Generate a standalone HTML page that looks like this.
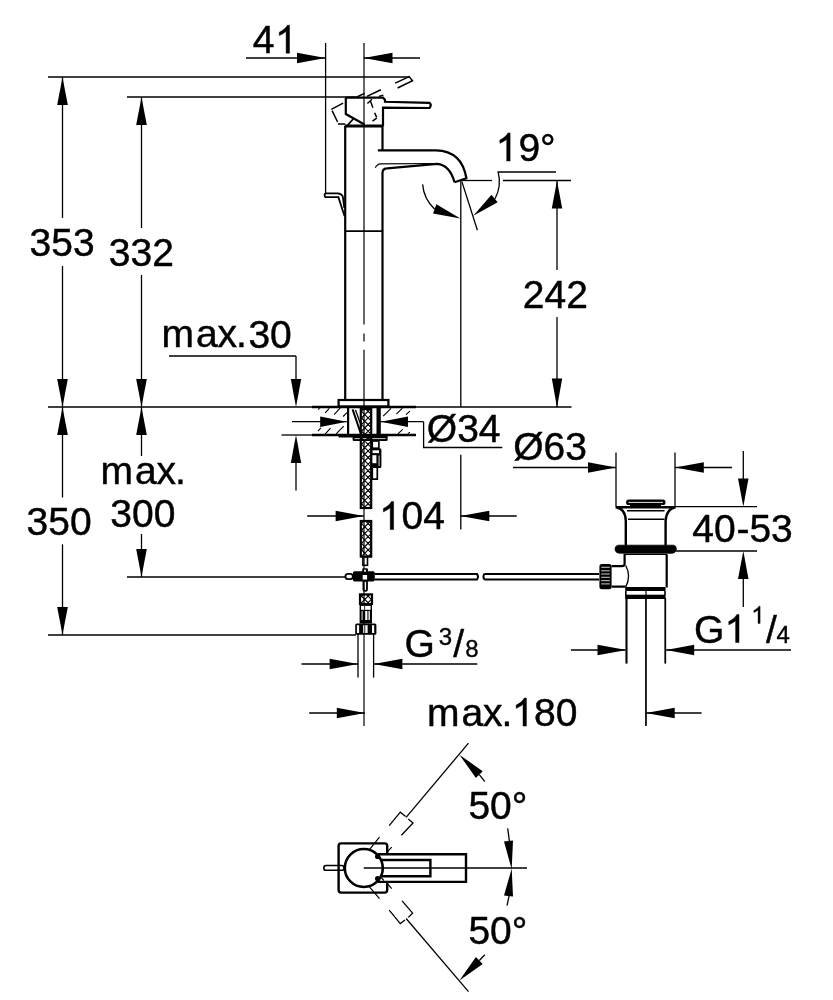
<!DOCTYPE html>
<html><head><meta charset="utf-8"><style>
html,body{margin:0;padding:0;background:#fff;}
svg{display:block;}
text{font-family:"Liberation Sans",sans-serif;fill:#000;}
svg{will-change:transform;}
</style></head><body>
<svg width="833" height="1000" viewBox="0 0 833 1000">
<line x1="48" y1="77" x2="409" y2="77" stroke="#000" stroke-width="1.3" />
<line x1="62.5" y1="77" x2="62.5" y2="218" stroke="#000" stroke-width="1.3" />
<line x1="62.5" y1="266" x2="62.5" y2="497.5" stroke="#000" stroke-width="1.3" />
<line x1="62.5" y1="544.3" x2="62.5" y2="635" stroke="#000" stroke-width="1.3" />
<polygon points="62.5,77.0 57.2,105.0 67.8,105.0" fill="#000"/>
<polygon points="62.5,407.0 67.8,379.0 57.2,379.0" fill="#000"/>
<polygon points="62.5,407.0 57.2,435.0 67.8,435.0" fill="#000"/>
<polygon points="62.5,635.0 67.8,607.0 57.2,607.0" fill="#000"/>
<text x="29.5" y="256" font-size="39" stroke="#000" stroke-width="0.45">353</text>
<text x="26.6" y="534.7" font-size="39" stroke="#000" stroke-width="0.45">350</text>
<line x1="48" y1="635" x2="356" y2="635" stroke="#000" stroke-width="1.3" />
<line x1="127" y1="97" x2="358" y2="97" stroke="#000" stroke-width="1.3" />
<line x1="141.5" y1="97" x2="141.5" y2="228" stroke="#000" stroke-width="1.3" />
<line x1="141.5" y1="275" x2="141.5" y2="456" stroke="#000" stroke-width="1.3" />
<line x1="141.5" y1="534" x2="141.5" y2="577" stroke="#000" stroke-width="1.3" />
<polygon points="141.5,97.0 136.2,125.0 146.8,125.0" fill="#000"/>
<polygon points="141.5,407.0 146.8,379.0 136.2,379.0" fill="#000"/>
<polygon points="141.5,407.0 136.2,435.0 146.8,435.0" fill="#000"/>
<polygon points="141.5,577.0 146.8,549.0 136.2,549.0" fill="#000"/>
<text x="108.8" y="266" font-size="39" stroke="#000" stroke-width="0.45">332</text>
<text x="100.4" y="483.5" font-size="39" stroke="#000" stroke-width="0.45">m</text>
<text x="135.0" y="483.5" font-size="39" stroke="#000" stroke-width="0.45">a</text>
<text x="156.6" y="483.5" font-size="39" stroke="#000" stroke-width="0.45">x</text>
<text x="175.0" y="483.5" font-size="39" stroke="#000" stroke-width="0.45">.</text>
<text x="110.3" y="527.4" font-size="39" stroke="#000" stroke-width="0.45">300</text>
<line x1="127" y1="577" x2="346" y2="577" stroke="#000" stroke-width="1.3" />
<line x1="48" y1="407" x2="571.5" y2="407" stroke="#000" stroke-width="1.3" />
<line x1="246" y1="58" x2="325.6" y2="58" stroke="#000" stroke-width="1.3" />
<polygon points="325.6,58.0 297.0,52.8 297.0,63.2" fill="#000"/>
<line x1="363.7" y1="58" x2="420" y2="58" stroke="#000" stroke-width="1.3" />
<polygon points="363.7,58.0 392.5,63.2 392.5,52.8" fill="#000"/>
<text x="252.7" y="53.2" font-size="39" stroke="#000" stroke-width="0.45">4</text>
<path d="M289.53,53.20 L286.10,53.20 L286.10,31.36 Q284.86,32.54 282.85,33.72 Q280.83,34.90 279.25,35.49 L279.25,32.18 Q282.14,30.82 284.31,28.90 Q286.48,26.98 287.38,25.17 L289.53,25.17 Z" fill="#000" stroke="#000" stroke-width="0.45"/>
<line x1="325.6" y1="43" x2="325.6" y2="193.6" stroke="#000" stroke-width="1.3" />
<line x1="364" y1="43" x2="364" y2="324.5" stroke="#000" stroke-width="1.2" />
<line x1="364" y1="333.5" x2="364" y2="341.6" stroke="#000" stroke-width="1.2" />
<line x1="364" y1="349.7" x2="364" y2="726" stroke="#000" stroke-width="1.2" />
<line x1="557" y1="180.5" x2="557" y2="270" stroke="#000" stroke-width="1.3" />
<line x1="557" y1="317" x2="557" y2="407" stroke="#000" stroke-width="1.3" />
<polygon points="557.0,180.5 551.8,208.6 562.2,208.6" fill="#000"/>
<polygon points="557.0,407.4 562.2,378.6 551.8,378.6" fill="#000"/>
<text x="522.8" y="308.4" font-size="39" stroke="#000" stroke-width="0.45">242</text>
<line x1="460.8" y1="180.5" x2="492" y2="180.5" stroke="#000" stroke-width="1.3" />
<line x1="503" y1="180.5" x2="571" y2="180.5" stroke="#000" stroke-width="1.3" />
<line x1="460.8" y1="181" x2="460.8" y2="407" stroke="#000" stroke-width="1.3" />
<line x1="460.8" y1="454.7" x2="460.8" y2="529.6" stroke="#000" stroke-width="1.3" />
<line x1="461.9" y1="181.6" x2="477.4" y2="230.2" stroke="#000" stroke-width="1.3" />
<line x1="497.5" y1="172" x2="556" y2="172" stroke="#000" stroke-width="1.3" />
<path d="M498.2,172 A38.5,38.5 0 0 1 495.1,198.8" fill="none" stroke="#000" stroke-width="1.3" />
<path d="M422.6,184.4 A38.5,38.5 0 0 0 434.7,209.2" fill="none" stroke="#000" stroke-width="1.3" />
<polygon points="460.4,218.5 436.4,204.2 433.0,213.4" fill="#000"/>
<polygon points="473.3,215.8 497.7,202.3 491.5,194.7" fill="#000"/>
<path d="M510.13,161.00 L506.70,161.00 L506.70,139.16 Q505.46,140.34 503.45,141.52 Q501.43,142.70 499.85,143.29 L499.85,139.98 Q502.74,138.62 504.91,136.70 Q507.08,134.78 507.98,132.97 L510.13,132.97 Z" fill="#000" stroke="#000" stroke-width="0.45"/>
<text x="518.4" y="161" font-size="39" stroke="#000" stroke-width="0.45">9°</text>
<text x="161.4" y="347.3" font-size="39" stroke="#000" stroke-width="0.45">m</text>
<text x="196.0" y="347.3" font-size="39" stroke="#000" stroke-width="0.45">a</text>
<text x="217.6" y="347.3" font-size="39" stroke="#000" stroke-width="0.45">x</text>
<text x="236.0" y="347.3" font-size="39" stroke="#000" stroke-width="0.45">.</text>
<text x="248.4" y="347.8" font-size="39" stroke="#000" stroke-width="0.45">30</text>
<line x1="169" y1="356" x2="296" y2="356" stroke="#000" stroke-width="1.3" />
<line x1="296" y1="356" x2="296" y2="380" stroke="#000" stroke-width="1.3" />
<polygon points="296.0,407.0 301.2,379.0 290.8,379.0" fill="#000"/>
<polygon points="296.0,435.0 290.8,463.0 301.2,463.0" fill="#000"/>
<line x1="296" y1="463" x2="296" y2="490.4" stroke="#000" stroke-width="1.3" />
<line x1="281.5" y1="435" x2="312" y2="435" stroke="#000" stroke-width="1.3" />
<line x1="292" y1="421.7" x2="346.8" y2="421.7" stroke="#000" stroke-width="1.3" />
<polygon points="346.8,421.7 320.2,416.4 320.2,426.9" fill="#000"/>
<line x1="380.7" y1="421.7" x2="423.6" y2="421.7" stroke="#000" stroke-width="1.3" />
<polygon points="380.7,421.7 408.0,426.9 408.0,416.4" fill="#000"/>
<path d="M423.6,421.7 L423.6,447.5 L502.3,447.5" fill="none" stroke="#000" stroke-width="1.3" />
<text x="426.8" y="441.6" font-size="39" stroke="#000" stroke-width="0.45">Ø34</text>
<line x1="307.2" y1="516" x2="363.8" y2="516" stroke="#000" stroke-width="1.3" />
<polygon points="363.8,516.0 335.6,510.8 335.6,521.2" fill="#000"/>
<line x1="460.5" y1="516" x2="516.7" y2="516" stroke="#000" stroke-width="1.3" />
<polygon points="460.5,516.0 489.3,521.2 489.3,510.8" fill="#000"/>
<path d="M393.63,529.60 L390.20,529.60 L390.20,507.76 Q388.96,508.94 386.95,510.12 Q384.93,511.30 383.35,511.89 L383.35,508.58 Q386.24,507.22 388.41,505.30 Q390.58,503.38 391.48,501.57 L393.63,501.57 Z" fill="#000" stroke="#000" stroke-width="0.45"/>
<text x="401.5" y="529.4" font-size="39" stroke="#000" stroke-width="0.45">04</text>
<text x="513.2" y="460" font-size="39" stroke="#000" stroke-width="0.45">Ø63</text>
<line x1="513" y1="467.5" x2="616" y2="467.5" stroke="#000" stroke-width="1.3" />
<polygon points="616.0,467.5 588.0,462.2 588.0,472.8" fill="#000"/>
<line x1="675" y1="467.5" x2="732" y2="467.5" stroke="#000" stroke-width="1.3" />
<polygon points="675.0,467.5 703.8,472.8 703.8,462.2" fill="#000"/>
<line x1="616" y1="452.6" x2="616" y2="506.6" stroke="#000" stroke-width="1.3" />
<line x1="675" y1="452.6" x2="675" y2="506.6" stroke="#000" stroke-width="1.3" />
<line x1="743.3" y1="451" x2="743.3" y2="480" stroke="#000" stroke-width="1.3" />
<polygon points="743.3,506.7 748.5,478.4 738.0,478.4" fill="#000"/>
<line x1="675" y1="506.7" x2="757" y2="506.7" stroke="#000" stroke-width="1.3" />
<line x1="676" y1="551" x2="757" y2="551" stroke="#000" stroke-width="1.3" />
<polygon points="743.3,551.0 738.0,579.0 748.5,579.0" fill="#000"/>
<line x1="743.3" y1="579" x2="743.3" y2="607" stroke="#000" stroke-width="1.3" />
<text x="692.2" y="542.3" font-size="39" stroke="#000" stroke-width="0.45">40</text>
<text x="736.4" y="542.3" font-size="39" stroke="#000" stroke-width="0.45">-53</text>
<line x1="570.9" y1="650" x2="625.5" y2="650" stroke="#000" stroke-width="1.3" />
<polygon points="626.5,650.0 597.5,644.8 597.5,655.2" fill="#000"/>
<line x1="666" y1="650" x2="791" y2="650" stroke="#000" stroke-width="1.3" />
<polygon points="666.0,650.0 694.2,655.2 694.2,644.8" fill="#000"/>
<line x1="626.9" y1="598" x2="626.9" y2="663.4" stroke="#000" stroke-width="1.3" />
<line x1="665.5" y1="598" x2="665.5" y2="663.4" stroke="#000" stroke-width="1.3" />
<line x1="646" y1="587" x2="646" y2="726" stroke="#000" stroke-width="1.2" />
<text x="693.9" y="642.5" font-size="39" stroke="#000" stroke-width="0.45">G</text>
<path d="M739.03,642.50 L735.60,642.50 L735.60,620.66 Q734.36,621.84 732.35,623.02 Q730.33,624.20 728.75,624.79 L728.75,621.48 Q731.64,620.12 733.81,618.20 Q735.98,616.28 736.88,614.47 L739.03,614.47 Z" fill="#000" stroke="#000" stroke-width="0.45"/>
<path d="M760.14,623.40 L758.03,623.40 L758.03,609.96 Q757.27,610.69 756.03,611.41 Q754.79,612.14 753.81,612.50 L753.81,610.46 Q755.59,609.63 756.93,608.45 Q758.27,607.26 758.82,606.15 L760.14,606.15 Z" fill="#000" stroke="#000" stroke-width="0.35"/>
<text x="765.9" y="642.5" font-size="39" stroke="#000" stroke-width="0.45">/</text>
<text x="776.6" y="642.5" font-size="24" stroke="#000" stroke-width="0.35">4</text>
<line x1="301.5" y1="664" x2="358" y2="664" stroke="#000" stroke-width="1.3" />
<polygon points="358.0,664.0 329.6,658.8 329.6,669.2" fill="#000"/>
<line x1="373.6" y1="664" x2="477.3" y2="664" stroke="#000" stroke-width="1.3" />
<polygon points="373.6,664.0 402.4,669.2 402.4,658.8" fill="#000"/>
<line x1="358" y1="634" x2="358" y2="677.6" stroke="#000" stroke-width="1.3" />
<line x1="373.6" y1="634" x2="373.6" y2="677.6" stroke="#000" stroke-width="1.3" />
<text x="404.4" y="657.2" font-size="39" stroke="#000" stroke-width="0.45">G</text>
<text x="438.8" y="644.7" font-size="24" stroke="#000" stroke-width="0.35">3</text>
<text x="453.3" y="657.2" font-size="39" stroke="#000" stroke-width="0.45">/</text>
<text x="465.3" y="657.2" font-size="24" stroke="#000" stroke-width="0.35">8</text>
<line x1="309.2" y1="713" x2="364.9" y2="713" stroke="#000" stroke-width="1.3" />
<polygon points="364.9,713.0 336.8,707.8 336.8,718.2" fill="#000"/>
<line x1="645.9" y1="713" x2="701.6" y2="713" stroke="#000" stroke-width="1.3" />
<polygon points="645.9,713.0 674.7,718.2 674.7,707.8" fill="#000"/>
<line x1="645.9" y1="598" x2="645.9" y2="726" stroke="#000" stroke-width="1.3" />
<text x="426.9" y="726.1" font-size="39" stroke="#000" stroke-width="0.45">m</text>
<text x="461.5" y="726.1" font-size="39" stroke="#000" stroke-width="0.45">a</text>
<text x="483.1" y="726.1" font-size="39" stroke="#000" stroke-width="0.45">x</text>
<text x="501.5" y="726.1" font-size="39" stroke="#000" stroke-width="0.45">.</text>
<path d="M526.43,726.10 L523.00,726.10 L523.00,704.26 Q521.76,705.44 519.75,706.62 Q517.73,707.80 516.15,708.39 L516.15,705.08 Q519.04,703.72 521.21,701.80 Q523.38,699.88 524.28,698.07 L526.43,698.07 Z" fill="#000" stroke="#000" stroke-width="0.45"/>
<text x="534" y="726.1" font-size="39" stroke="#000" stroke-width="0.45">80</text>
<path d="M345.8,97.6 L383,97.6 L385,100 L385,101.8 L429.5,102.9 Q432,105 429.5,108 L383,107.7 L383,126" fill="none" stroke="#000" stroke-width="2.2" />
<path d="M345.8,97.6 L345.8,114 L364.5,124.5" fill="none" stroke="#000" stroke-width="2.2" />
<line x1="344.7" y1="126" x2="383" y2="126" stroke="#000" stroke-width="2.8" />
<path d="M347.5,125.4 L353.2,119" fill="none" stroke="#000" stroke-width="1.8" />
<path d="M331.3,109.4 L343.1,103.1 M332.1,110.7 L337.6,122 M338,124.1 L345.2,124.1" fill="none" stroke="#000" stroke-width="1.5" />
<path d="M367.4,103.5 L372,99.3 M370.4,101 L372.9,107.7 M374.6,112.8 L376.7,117.4 M372.5,121.2 L376.7,118.2" fill="none" stroke="#000" stroke-width="1.5" />
<path d="M357.4,96.8 L364.5,93.4 M367,96.4 L380.9,89.7 M378.8,96.4 L383.4,95.1" fill="none" stroke="#000" stroke-width="1.5" />
<path d="M395.2,83.1 L409.2,76.6 L412.5,80.8 L397.6,88" fill="none" stroke="#000" stroke-width="1.5" />
<line x1="345.2" y1="126" x2="345.2" y2="400" stroke="#000" stroke-width="2.2" />
<line x1="382.5" y1="126" x2="382.5" y2="150.3" stroke="#000" stroke-width="2.2" />
<line x1="382.5" y1="173" x2="382.5" y2="400" stroke="#000" stroke-width="2.2" />
<line x1="345.2" y1="231.2" x2="382.5" y2="231.2" stroke="#000" stroke-width="1.8" />
<path d="M377.9,150.3 L436,150.3 Q462,151 466.4,178.3 L454.5,182.3" fill="none" stroke="#000" stroke-width="2.2" />
<path d="M382.5,173 Q382.5,168.4 387.2,168.4 L437,163.8 Q450,165 454.5,182.3" fill="none" stroke="#000" stroke-width="2.2" />
<path d="M375.3,167.7 Q377,164 380.6,163.8 L437,163.5" fill="none" stroke="#000" stroke-width="1.2" />
<path d="M337.6,193.4 L326,193.4 Q324.6,193.4 324.6,195.3 Q324.6,197.2 326.2,197.2 L338.4,197.2 L344.5,216 M337.6,193.4 Q341.5,193.6 342.8,196.5 L344.3,208" fill="none" stroke="#000" stroke-width="1.8" />
<rect x="338.6" y="400" width="49.8" height="6.5" rx="0" fill="none" stroke="#000" stroke-width="2.2"/>
<line x1="312" y1="407" x2="416" y2="407" stroke="#000" stroke-width="2.6" />
<line x1="312" y1="435" x2="416" y2="435" stroke="#000" stroke-width="2.6" />
<path d="M325.1,412.9 L329.3,408.4 M334.1,414.7 L340.1,408.1 M343.1,416.5 L347,412.6 M317.9,431.2 L320.9,427.9 M325.1,434.2 L330.5,428.2 M336.2,433.9 L343.7,426.1 M318.2,409.6 L319.6,408" fill="none" stroke="#000" stroke-width="1.1" />
<path d="M383.2,416.2 L391,408.4 M396.4,414.1 L402.4,408.1 M406,414.7 L409.9,411.1 M397.9,433.9 L402.7,429.4 M407.8,433.9 L409.9,432.1" fill="none" stroke="#000" stroke-width="1.1" />
<line x1="348.1" y1="407" x2="348.1" y2="435" stroke="#000" stroke-width="2.2" />
<rect x="376.5" y="407" width="4.3" height="28" rx="0" fill="#000" stroke="#000" stroke-width="0"/>
<path d="M352.6,409.4 L361,434" fill="none" stroke="#000" stroke-width="2" />
<path d="M355.5,410 L360.2,423" fill="none" stroke="#000" stroke-width="1.3" />
<line x1="338.6" y1="436" x2="387.6" y2="436" stroke="#000" stroke-width="2.8" />
<rect x="352.6" y="436" width="35" height="5" rx="1.2" fill="#000"/>
<line x1="354.5" y1="438.6" x2="385.5" y2="438.6" stroke="#fff" stroke-width="0.8" />
<clipPath id="c1"><rect x="361" y="409" width="10" height="99"/></clipPath>
<path d="M360.6,399.0 L241.6,518.0 M367.2,399.0 L248.2,518.0 M373.8,399.0 L254.8,518.0 M380.4,399.0 L261.4,518.0 M387.0,399.0 L268.0,518.0 M393.6,399.0 L274.6,518.0 M243.6,399.0 L362.6,518.0 M400.2,399.0 L281.2,518.0 M250.2,399.0 L369.2,518.0 M406.8,399.0 L287.8,518.0 M256.8,399.0 L375.8,518.0 M413.4,399.0 L294.4,518.0 M263.4,399.0 L382.4,518.0 M420.0,399.0 L301.0,518.0 M270.0,399.0 L389.0,518.0 M426.6,399.0 L307.6,518.0 M276.6,399.0 L395.6,518.0 M433.2,399.0 L314.2,518.0 M283.2,399.0 L402.2,518.0 M439.8,399.0 L320.8,518.0 M289.8,399.0 L408.8,518.0 M446.4,399.0 L327.4,518.0 M296.4,399.0 L415.4,518.0 M453.0,399.0 L334.0,518.0 M303.0,399.0 L422.0,518.0 M459.6,399.0 L340.6,518.0 M309.6,399.0 L428.6,518.0 M466.2,399.0 L347.2,518.0 M316.2,399.0 L435.2,518.0 M472.8,399.0 L353.8,518.0 M322.8,399.0 L441.8,518.0 M479.4,399.0 L360.4,518.0 M329.4,399.0 L448.4,518.0 M486.0,399.0 L367.0,518.0 M336.0,399.0 L455.0,518.0 M492.6,399.0 L373.6,518.0 M342.6,399.0 L461.6,518.0 M349.2,399.0 L468.2,518.0 M355.8,399.0 L474.8,518.0 M362.4,399.0 L481.4,518.0 M369.0,399.0 L488.0,518.0 M375.6,399.0 L494.6,518.0 " stroke="#000" stroke-width="1.15" fill="none" clip-path="url(#c1)"/>
<rect x="360.8" y="409" width="10.4" height="99" rx="0" fill="none" stroke="#000" stroke-width="2.2"/>
<clipPath id="c2"><rect x="361" y="521" width="10" height="35.60000000000002"/></clipPath>
<path d="M302.8,511.0 L358.4,566.6 M309.4,511.0 L365.0,566.6 M316.0,511.0 L371.6,566.6 M322.6,511.0 L378.2,566.6 M329.2,511.0 L384.8,566.6 M335.8,511.0 L391.4,566.6 M342.4,511.0 L398.0,566.6 M349.0,511.0 L404.6,566.6 M355.6,511.0 L411.2,566.6 M362.2,511.0 L417.8,566.6 M368.8,511.0 L424.4,566.6 M375.4,511.0 L431.0,566.6 M360.8,511.0 L305.2,566.6 M367.4,511.0 L311.8,566.6 M374.0,511.0 L318.4,566.6 M380.6,511.0 L325.0,566.6 M387.2,511.0 L331.6,566.6 M393.8,511.0 L338.2,566.6 M400.4,511.0 L344.8,566.6 M407.0,511.0 L351.4,566.6 M413.6,511.0 L358.0,566.6 M420.2,511.0 L364.6,566.6 M426.8,511.0 L371.2,566.6 " stroke="#000" stroke-width="1.15" fill="none" clip-path="url(#c2)"/>
<rect x="360.8" y="521" width="10.4" height="35.60000000000002" rx="0" fill="none" stroke="#000" stroke-width="2.2"/>
<rect x="362.9" y="556.8" width="4.6" height="8.5" rx="0" fill="none" stroke="#000" stroke-width="1.6"/>
<rect x="372.3" y="441" width="6.6" height="7.2" rx="0" fill="none" stroke="#000" stroke-width="1.6"/>
<rect x="371.5" y="448.2" width="9.9" height="19.8" rx="1.5" fill="#000"/>
<rect x="372.6" y="450.3" width="6.4" height="2.8" fill="#fff"/><rect x="372.4" y="455.2" width="4" height="8" fill="#fff"/><rect x="378.3" y="455.5" width="1.6" height="10.5" fill="#888"/>
<path d="M372.3,468 L372.3,479.2 L377.3,479.2 L377.3,468" fill="none" stroke="#000" stroke-width="1.7" />
<rect x="345.4" y="573.9" width="7.5" height="5.3" rx="2.6" fill="none" stroke="#000" stroke-width="1.8"/>
<rect x="352.9" y="571.3" width="21.9" height="10.2" rx="1.8" fill="#000"/>
<rect x="362.7" y="575" width="4.4" height="4.6" fill="#fff"/>
<rect x="362.2" y="568.3" width="5.7" height="5" rx="1" fill="#000"/><rect x="364.2" y="569.6" width="1.6" height="2.2" fill="#fff"/>
<rect x="363.4" y="580.6" width="3.6" height="10.2" rx="1.6" fill="none" stroke="#000" stroke-width="1.8"/>
<path d="M374.7,573.9 L477,573.9 Q479,576.7 477,579.5 L374.7,579.5" fill="none" stroke="#000" stroke-width="2" />
<path d="M484.4,573.9 L599,573.9 M484.4,579.5 L599,579.5 M484.4,573.9 Q482.5,576.7 484.4,579.5" fill="none" stroke="#000" stroke-width="2" />
<clipPath id="c3"><rect x="360.2" y="594.4" width="11.600000000000023" height="9.600000000000023"/></clipPath>
<path d="M330.0,584.4 L359.6,614.0 M336.6,584.4 L366.2,614.0 M343.2,584.4 L372.8,614.0 M349.8,584.4 L379.4,614.0 M356.4,584.4 L386.0,614.0 M363.0,584.4 L392.6,614.0 M369.6,584.4 L399.2,614.0 M376.2,584.4 L405.8,614.0 M360.0,584.4 L330.4,614.0 M366.6,584.4 L337.0,614.0 M373.2,584.4 L343.6,614.0 M379.8,584.4 L350.2,614.0 M386.4,584.4 L356.8,614.0 M393.0,584.4 L363.4,614.0 M399.6,584.4 L370.0,614.0 M406.2,584.4 L376.6,614.0 " stroke="#000" stroke-width="1.15" fill="none" clip-path="url(#c3)"/>
<rect x="360.0" y="594.4" width="12.000000000000023" height="9.600000000000023" rx="0" fill="none" stroke="#000" stroke-width="2.2"/>
<rect x="359.6" y="604" width="12.4" height="19.5" fill="#000"/>
<rect x="361" y="605.9" width="9.6" height="3.9" fill="#fff"/>
<line x1="364.6" y1="605.9" x2="364.6" y2="609.8" stroke="#000" stroke-width="0.8" />
<rect x="361.4" y="611" width="1.5" height="9" fill="#999"/><rect x="365.2" y="611" width="2.2" height="9" fill="#fff"/><rect x="368.4" y="611" width="1.6" height="9" fill="#ddd"/>
<rect x="355.2" y="623.5" width="21.2" height="11.3" rx="1.5" fill="#000"/>
<rect x="356.9" y="625.2" width="2.2" height="7.8" fill="#fff"/><rect x="363.2" y="625.2" width="4.4" height="7.8" fill="#fff"/><rect x="372" y="625.2" width="2.2" height="7.8" fill="#fff"/>
<line x1="364.8" y1="625" x2="364.8" y2="634" stroke="#000" stroke-width="0.9" />
<rect x="626.1" y="499.6" width="39.4" height="5.4" rx="2.6" fill="#000"/>
<line x1="628.5" y1="502.4" x2="663" y2="502.4" stroke="#fff" stroke-width="0.9" />
<line x1="630" y1="505.6" x2="661" y2="505.6" stroke="#000" stroke-width="1.3" />
<path d="M615.6,507.3 L675.6,507.3 Q666.5,508.5 665.6,521 L665.6,545.5 M615.6,507.3 Q625.6,508.5 625.8,521 L625.8,545.5" fill="none" stroke="#000" stroke-width="2.4" />
<line x1="627" y1="510.7" x2="664.5" y2="510.7" stroke="#000" stroke-width="1.4" />
<line x1="628" y1="519.3" x2="664.5" y2="519.3" stroke="#000" stroke-width="1.4" />
<path d="M618.5,545.2 L673.5,545.2 Q676.5,545.6 676.3,549 L675.8,551 Q675,553.2 672,553.2 L619.5,553.2 Q616,553.2 615.3,550.5 L615,549 Q615,545.6 618.5,545.2 Z" fill="#000" stroke="#000" stroke-width="0.8" />
<line x1="623.5" y1="554.3" x2="667.5" y2="554.3" stroke="#000" stroke-width="1.2" />
<path d="M624.6,555 L624.6,564.5 Q624,566.1 622,566.1 L611.6,566.1 M611.6,586.6 L625.5,586.6 M666.7,555 L666.7,587.5" fill="none" stroke="#000" stroke-width="2.2" />
<path d="M625.7,565.5 Q631.5,576.3 625.7,587.1" fill="none" stroke="#000" stroke-width="1.3" />
<rect x="599.4" y="564.1" width="12.2" height="25.2" rx="2.5" fill="#000"/>
<line x1="601.2" y1="567.3" x2="609.8" y2="567.3" stroke="#bbb" stroke-width="1.1" />
<line x1="601.2" y1="570.8" x2="609.8" y2="570.8" stroke="#bbb" stroke-width="1.1" />
<line x1="601.2" y1="574" x2="609.8" y2="574" stroke="#bbb" stroke-width="1.1" />
<line x1="601.2" y1="577.3" x2="609.8" y2="577.3" stroke="#bbb" stroke-width="1.1" />
<line x1="601.2" y1="580.6" x2="609.8" y2="580.6" stroke="#bbb" stroke-width="1.1" />
<line x1="601.2" y1="583.9" x2="609.8" y2="583.9" stroke="#bbb" stroke-width="1.1" />
<line x1="0" y1="0" x2="0" y2="0" stroke="#000" stroke-width="0" />
<rect x="625.1" y="587.1" width="40.5" height="4" rx="1" fill="#000"/><rect x="625.1" y="594.7" width="40.5" height="4.3" fill="#000"/>
<line x1="625.8" y1="591" x2="625.8" y2="595" stroke="#000" stroke-width="1.6" />
<line x1="665" y1="591" x2="665" y2="595" stroke="#000" stroke-width="1.6" />
<line x1="626.2" y1="599" x2="626.2" y2="663.4" stroke="#000" stroke-width="1.5" />
<line x1="665.2" y1="599" x2="665.2" y2="663.4" stroke="#000" stroke-width="1.5" />
<line x1="369.4" y1="849.7" x2="379.5" y2="837.1" stroke="#000" stroke-width="1.2" />
<line x1="387.4" y1="851.9" x2="391.7" y2="847.2" stroke="#000" stroke-width="1.2" />
<line x1="381.3" y1="858.4" x2="383.8" y2="855.5" stroke="#000" stroke-width="1.2" />
<line x1="369.4" y1="886.8" x2="379.5" y2="898.7" stroke="#000" stroke-width="1.2" />
<line x1="387" y1="883.2" x2="391.7" y2="888.6" stroke="#000" stroke-width="1.2" />
<rect x="338.6" y="843.4" width="48.6" height="49.2" rx="2.5" fill="none" stroke="#000" stroke-width="2.4"/>
<rect x="377.6" y="854.2" width="88.4" height="27.7" fill="#fff"/>
<circle cx="363.8" cy="868" r="19" fill="#fff" stroke="#000" stroke-width="2.6"/>
<rect x="323.8" y="865.5" width="20.2" height="4.8" rx="2.4" fill="none" stroke="#000" stroke-width="1.6"/>
<path d="M377.6,854.2 L466,854.2 L466,881.9 L377.6,881.9" fill="none" stroke="#000" stroke-width="2.4" />
<path d="M381.5,860 L430.4,860 L430.4,876.3 L381.5,876.3" fill="none" stroke="#000" stroke-width="2.4" />
<line x1="363.8" y1="868" x2="527" y2="868" stroke="#000" stroke-width="1.3" />
<circle cx="377.6" cy="856.5" r="2.6" fill="#000"/><circle cx="377.6" cy="878.6" r="2.6" fill="#000"/>
<line x1="381.3" y1="877.6" x2="383.8" y2="880.5" stroke="#000" stroke-width="1.2" />
<line x1="406.1" y1="817.3" x2="468.5" y2="743.2" stroke="#000" stroke-width="1.3" />
<path d="M389.2,825.6 L400.3,812.2 L405.7,816.6 M408.3,819.1 L413,823 L401.4,835.3" fill="none" stroke="#000" stroke-width="1.3" />
<polygon points="459.4,754.7 475.9,778.0 482.7,771.2" fill="#000"/>
<line x1="479.3" y1="774.6" x2="484.8" y2="781.6" stroke="#000" stroke-width="1.3" />
<text x="468.4" y="819.3" font-size="39" stroke="#000" stroke-width="0.45">50°</text>
<line x1="507.7" y1="828.4" x2="509.5" y2="842" stroke="#000" stroke-width="1.3" />
<polygon points="511.7,869.3 513.0,840.5 504.0,841.5" fill="#000"/>
<line x1="406.1" y1="918.5" x2="468.5" y2="991.6" stroke="#000" stroke-width="1.3" />
<path d="M389.2,910.2 L400.3,923.6 L405,919.9 M408.3,917.4 L412.6,913.1 L402.1,900.9" fill="none" stroke="#000" stroke-width="1.3" />
<polygon points="459.4,980.5 482.7,963.9 475.9,957.1" fill="#000"/>
<line x1="479.3" y1="960.5" x2="484.8" y2="954.8" stroke="#000" stroke-width="1.3" />
<text x="468.4" y="944" font-size="39" stroke="#000" stroke-width="0.45">50°</text>
<line x1="507" y1="905.6" x2="509.5" y2="894" stroke="#000" stroke-width="1.3" />
<polygon points="511.7,868.4 504.0,895.5 513.0,896.5" fill="#000"/>
</svg></body></html>
